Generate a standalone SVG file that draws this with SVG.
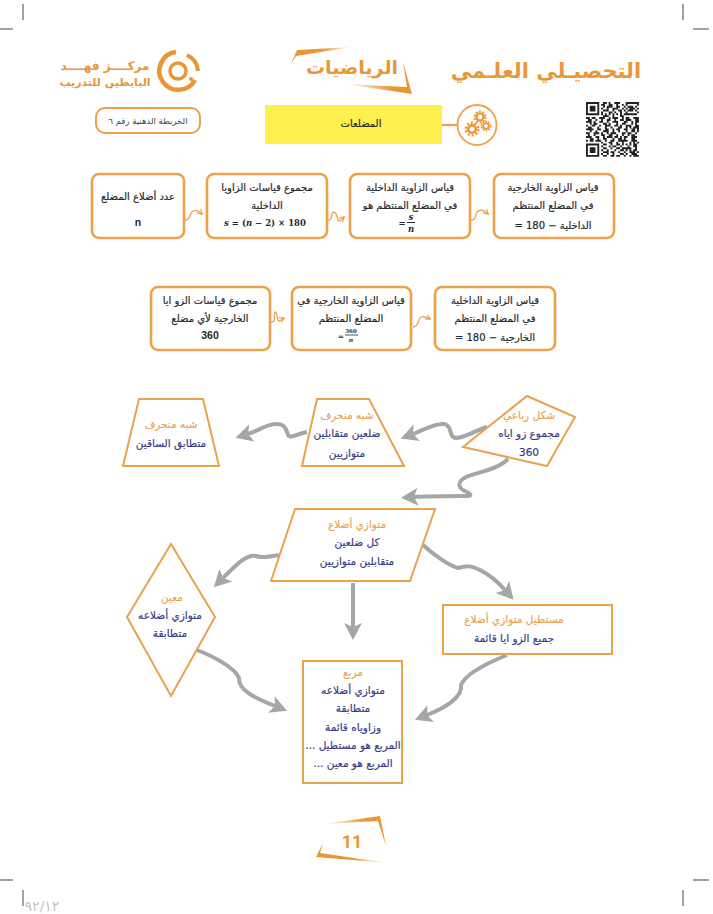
<svg xmlns="http://www.w3.org/2000/svg" width="713" height="914" viewBox="0 0 713 914">
<style>
text{font-family:"DejaVu Sans",sans-serif;text-anchor:middle;direction:rtl}
.t{font-size:10px;fill:#2a2a2a;stroke:#2a2a2a;stroke-width:.2}
.b{fill:#fff;stroke:#eda24a;stroke-width:2.6}
.s{fill:#fff;stroke:#e9a24e;stroke-width:2}
.o{font-size:10.5px;fill:#e9a24e;stroke:#e9a24e;stroke-width:.15}
.n{font-size:10.5px;fill:#3a3d86;stroke:#3a3d86;stroke-width:.2}
.m{font-family:"DejaVu Serif",serif;font-weight:bold;font-size:8.500px;fill:#2a2a2a;direction:ltr}
.d{font-family:"Liberation Sans",sans-serif;font-weight:bold;font-size:10.500px;fill:#2a2a2a;direction:ltr}
.c{fill:none;stroke:#a6a6a6;stroke-width:4}
.w{fill:none;stroke:#eda24a;stroke-width:1.3;marker-end:url(#sm)}
.k{stroke:#444;stroke-width:1;fill:none}
.h{fill:#e8973a;font-weight:bold}
</style>
<defs>
<marker id="ah" markerUnits="userSpaceOnUse" markerWidth="17" markerHeight="20" refX="4" refY="10" orient="auto" viewBox="0 0 17 20"><path d="M0 1L17 10L0 19L4 10z" fill="#a6a6a6"/></marker>
<marker id="sm" markerUnits="userSpaceOnUse" markerWidth="6" markerHeight="6" refX="4.500" refY="3" orient="auto" viewBox="0 0 6 6"><path d="M0 .5L5 3L0 5.500" fill="none" stroke="#eda24a" stroke-width="1.200"/></marker>
<linearGradient id="g1" x1="0" y1="0" x2="1" y2="0"><stop offset="0" stop-color="#ea9632" stop-opacity="0"/><stop offset=".7" stop-color="#ea9632"/><stop offset="1" stop-color="#ea9632"/></linearGradient>
<linearGradient id="g2" x1="0" y1="0" x2="1" y2="0"><stop offset="0" stop-color="#ea9632"/><stop offset=".5" stop-color="#ea9632"/><stop offset="1" stop-color="#ea9632" stop-opacity="0"/></linearGradient>
</defs>
<rect width="713" height="914" fill="#fff"/>

<g id="crop-marks" class="k">
<path d="M23 4V20M0 29H13M683 4V20M693 29H709M0 880H13M693 880H709M23 890V906M683 890V906"/>
</g>

<g id="logo">
<path d="M176 52A19 19 0 1 0 195 80" fill="none" stroke="#ea9632" stroke-width="4.500"/>
<path d="M187 55A19 19 0 0 1 198 71" fill="none" stroke="#ea9632" stroke-width="4"/>
<circle cx="178" cy="71" r="8" fill="none" stroke="#ea9632" stroke-width="3.500"/>
<circle cx="191" cy="79" r="2" fill="#ea9632"/>
<text x="105" y="70" font-size="12" class="h">مركــــز فهــــد</text>
<text x="105" y="86" font-size="11" class="h">البابطين للتدريب</text>
</g>

<g id="subject">
<path d="M352 47L297 50L291 64L296 56Z" fill="url(#g2)"/>
<path d="M403 62L412 94L345 84L407 87Z" fill="url(#g1)"/>
<text x="352" y="74" font-size="19" class="h">الرياضيات</text>
</g>
<text id="title" x="546" y="78" font-size="21" class="h">التحصيـلي العلـمي</text>

<g id="qr" transform="translate(586 102) scale(1.89)">
<path fill="none" stroke="#222" stroke-width="1" d="M0 .5h7m2 0h2m1 0h1m2 0h3m3 0h7M0 1.500h1m5 0h1m1 0h2m2 0h2m2 0h1m2 0h1m1 0h1m5 0h1M0 2.500h1m1 0h3m1 0h1m2 0h1m1 0h3m2 0h2m2 0h1m1 0h3m1 0h1M0 3.500h1m1 0h3m1 0h1m1 0h1m2 0h1m2 0h3m2 0h1m1 0h1m1 0h3m1 0h1M0 4.500h1m1 0h3m1 0h1m2 0h3m2 0h1m2 0h2m1 0h1m1 0h3m1 0h1M0 5.500h1m5 0h1m1 0h1m3 0h2m1 0h1m2 0h1m2 0h1m5 0h1M0 6.500h7m1 0h1m1 0h1m1 0h1m1 0h1m1 0h1m1 0h1m1 0h7M9 7.500h3m2 0h1m3 0h2M0 8.500h2m1 0h2m2 0h3m2 0h1m1 0h3m2 0h1m1 0h2m2 0h3M1 9.500h2m2 0h1m2 0h1m2 0h2m2 0h1m2 0h2m1 0h3m2 0h2M0 10.500h3m1 0h1m2 0h2m2 0h1m2 0h3m3 0h2m2 0h1m1 0h2M2 11.500h1m1 0h2m3 0h2m1 0h1m3 0h1m2 0h2m3 0h1m1 0h1M0 12.500h1m2 0h2m2 0h1m2 0h3m2 0h2m1 0h1m2 0h3m2 0h2M1 13.500h2m3 0h1m3 0h1m2 0h1m3 0h2m2 0h1m1 0h1m1 0h3M0 14.500h4m2 0h2m2 0h2m2 0h1m1 0h2m2 0h2m2 0h2m1 0h1M2 15.500h1m2 0h1m3 0h3m2 0h1m2 0h1m3 0h1m2 0h2m1 0h1M0 16.500h2m2 0h3m1 0h1m2 0h1m1 0h3m3 0h2m1 0h2m2 0h1M1 17.500h1m2 0h1m3 0h2m2 0h2m2 0h1m2 0h1m2 0h1m1 0h2M0 18.500h3m2 0h2m2 0h1m1 0h3m1 0h2m1 0h1m1 0h2m2 0h3M2 19.500h2m2 0h1m2 0h2m3 0h1m2 0h2m1 0h1m3 0h2M0 20.500h1m1 0h2m1 0h3m2 0h1m2 0h2m2 0h5m2 0h3M8 21.500h1m3 0h2m2 0h1m2 0h1m3 0h1m1 0h1m1 0h1M0 22.500h7m2 0h2m2 0h1m2 0h2m1 0h1m1 0h1m1 0h1m1 0h2M0 23.500h1m5 0h1m1 0h1m3 0h1m1 0h2m2 0h1m3 0h1m2 0h2M0 24.500h1m1 0h3m1 0h1m2 0h2m2 0h1m2 0h2m1 0h5m2 0h1M0 25.500h1m1 0h3m1 0h1m1 0h1m2 0h1m3 0h1m2 0h2m1 0h1m1 0h1m1 0h2M0 26.500h1m1 0h3m1 0h1m2 0h3m1 0h2m2 0h1m2 0h1m2 0h3m1 0h1M0 27.500h1m5 0h1m1 0h1m2 0h1m2 0h1m3 0h2m1 0h1m2 0h3M0 28.500h7m2 0h2m2 0h2m1 0h2m2 0h1m2 0h1m1 0h3"/>
</g>

<g id="topic">
<rect x="265" y="105" width="177" height="39" fill="#fff04d"/>
<text x="361" y="127" class="t">المضلعات</text>
</g>
<g id="gears">
<path d="M442 125H458" stroke="#eda24a" stroke-width="2.200"/>
<ellipse cx="477" cy="125" rx="19.500" ry="20" fill="#fff" stroke="#eda24a" stroke-width="1.800"/>
<g fill="none" stroke="#ea9632">
<circle cx="480" cy="117" r="3.500" stroke-width="2.200"/><circle cx="480" cy="117" r="5.500" stroke-width="2" stroke-dasharray="2 1.450"/>
<circle cx="472" cy="129" r="3.800" stroke-width="2.600"/><circle cx="472" cy="129" r="6.300" stroke-width="2.200" stroke-dasharray="2.200 1.750"/>
<circle cx="486" cy="126" r="2.800" stroke-width="1.800"/><circle cx="486" cy="126" r="4.600" stroke-width="1.600" stroke-dasharray="1.700 1.200"/>
</g>
</g>
<g id="map-label">
<rect x="96" y="108" width="104" height="25" rx="9" fill="#fff" stroke="#eda24a" stroke-width="2"/>
<text x="148" y="124" font-size="8.500" fill="#444">الخريطة الذهنية رقم ٦</text>
</g>

<g id="connectors">
<path class="w" d="M185 220C190 221 190 213 192 212C195 209 198 210 202 214"/>
<path class="w" d="M328 220C333 221 331 213 333 212C338 212 337 221 339 221C341 221 342 219 344 217"/>
<path class="w" d="M471 220C477 221 475 213 477 212C480 209 484 210 488 214"/>
<path class="w" d="M271 322C277 323 273 313 275 312C277 311 277 321 279 321C281 321 282 319 284 318"/>
<path class="w" d="M413 327C419 327 418 318 421 317C424 316 426 317 430 319"/>
<path class="c" marker-end="url(#ah)" d="M487 427C474 431 459 441 453 437C449 433 452 426 444 424C434 423 424 430 413 434"/>
<path class="c" marker-end="url(#ah)" d="M307 432C297 434 290 439 288 435C286 428 284 424 277 424C266 424 258 431 248 434"/>
<path class="c" marker-end="url(#ah)" d="M508 459C497 470 478 472 466 477C455 483 459 489 467 492C473 496 470 496 465 496C450 496 430 496 414 497"/>
<path class="c" marker-end="url(#ah)" d="M279 555C268 557 262 558 256 556C246 554 235 566 223 578"/>
<path class="c" marker-end="url(#ah)" d="M423 545C435 556 450 566 458 568C466 566 470 565 480 570C490 575 498 582 505 590"/>
<path class="c" marker-end="url(#ah)" d="M353 583V627"/>
<path class="c" marker-end="url(#ah)" d="M197 650C215 657 235 668 239 678C238 690 255 698 275 706"/>
<path class="c" marker-end="url(#ah)" d="M507 655C485 664 465 675 461 685C463 697 445 708 427 715"/>
</g>

<g id="box-sides"><rect class="b" x="92" y="174" width="92" height="64" rx="7"/>
<text class="t" x="138" y="200">عدد أضلاع المضلع</text><text class="d" x="138" y="226">n</text></g>
<g id="box-interior-sum"><rect class="b" x="207" y="174" width="120" height="64" rx="7"/>
<text class="t" x="267" y="191">مجموع قياسات الزاويا</text><text class="t" x="267" y="209">الداخلية</text>
<text class="m" x="265" y="226"><tspan font-style="italic">s</tspan> = (<tspan font-style="italic">n</tspan> − 2) × 180</text></g>
<g id="box-interior-angle"><rect class="b" x="350" y="174" width="120" height="64" rx="7"/>
<text class="t" x="410" y="191">قياس الزاوية الداخلية</text><text class="t" x="410" y="209">في المضلع المنتظم هو</text>
<text class="m" x="402" y="226">=</text><text class="m" x="411" y="220" font-style="italic">s</text><path d="M407 222.500H415" stroke="#2a2a2a"/><text class="m" x="411" y="232" font-style="italic">n</text></g>
<g id="box-exterior-angle"><rect class="b" x="494" y="174" width="120" height="64" rx="7"/>
<text class="t" x="553" y="191">قياس الزاوية الخارجية</text><text class="t" x="553" y="209">في المضلع المنتظم</text><text class="t" x="553" y="229">الداخلية − 180 =</text></g>

<g id="box-exterior-sum"><rect class="b" x="151" y="287" width="119" height="63" rx="7"/>
<text class="t" x="210" y="304">مجموع قياسات الزو ايا</text><text class="t" x="210" y="322">الخارجية لأي مضلع</text><text class="d" x="210" y="339">360</text></g>
<g id="box-exterior-regular"><rect class="b" x="292" y="287" width="119" height="63" rx="7"/>
<text class="t" x="351" y="304">قياس الزاوية الخارجية في</text><text class="t" x="351" y="322">المضلع المنتظم</text>
<text class="m" x="341" y="339" style="font-size:7px">=</text><text class="m" x="351" y="333" style="font-size:5.500px">360</text><path d="M345 335H358" stroke="#2a2a2a" stroke-width=".8"/><text class="m" x="351" y="342" style="font-size:6px" font-style="italic">n</text></g>
<g id="box-interior-regular"><rect class="b" x="435" y="287" width="120" height="63" rx="7"/>
<text class="t" x="495" y="304">قياس الزاوية الداخلية</text><text class="t" x="495" y="322">في المضلع المنتظم</text><text class="t" x="495" y="341">الخارجية − 180 =</text></g>

<g id="isosceles-trapezoid"><path class="s" d="M139 399H203L219 466H123Z"/>
<text class="o" x="171" y="428">شبه منحرف</text><text class="n" x="171" y="447">متطابق الساقين</text></g>
<g id="trapezoid"><path class="s" d="M317 399H369L404 466H302Z"/>
<text class="o" x="347" y="419">شبه منحرف</text><text class="n" x="347" y="437">ضلعين متقابلين</text><text class="n" x="347" y="457">متوازيين</text></g>
<g id="quadrilateral"><path class="s" d="M527 396L575 417L547 466L463 447Z"/>
<text class="o" x="529" y="419">شكل رباعي</text><text class="n" x="529" y="437">مجموع زو اياه</text><text class="n" x="529" y="456">360</text></g>
<g id="parallelogram"><path class="s" d="M295 509H435L410 581H271Z"/>
<text class="o" x="357" y="528">متوازي أضلاع</text><text class="n" x="357" y="546">كل ضلعين</text><text class="n" x="357" y="565">متقابلين متوازيين</text></g>
<g id="rhombus"><path class="s" d="M171 544L215 617L171 696L127 617Z"/>
<text class="o" x="172" y="601">معين</text><text class="n" x="170" y="619">متوازي أضلاعه</text><text class="n" x="170" y="637">متطابقة</text></g>
<g id="rectangle"><rect class="s" x="443" y="605" width="169" height="49"/>
<text class="o" x="514" y="623">مستطيل متوازي أضلاع</text><text class="n" x="514" y="642">جميع الزو ايا قائمة</text></g>
<g id="square"><rect class="s" x="303" y="661" width="99" height="122"/>
<text class="o" x="353" y="676">مربع</text><text class="n" x="353" y="694">متوازي أضلاعه</text><text class="n" x="353" y="712">متطابقة</text><text class="n" x="353" y="731">وزاوياه قائمة</text><text class="n" x="353" y="749">المربع هو مستطيل ...</text><text class="n" x="353" y="767">المربع هو معين ...</text></g>

<g id="page-number">
<path d="M323 824L380 816L386 846L378 821Z" fill="url(#g1)"/>
<path d="M323 843L316 857L388 863L320 853Z" fill="url(#g2)"/>
<text x="352" y="848" font-size="18" class="h" style="font-family:Roboto,sans-serif;direction:ltr">11</text>
</g>
<text id="folio" x="42" y="911" font-size="14" fill="#c4c4c4" style="direction:ltr">٩٢/١٢</text>
</svg>
